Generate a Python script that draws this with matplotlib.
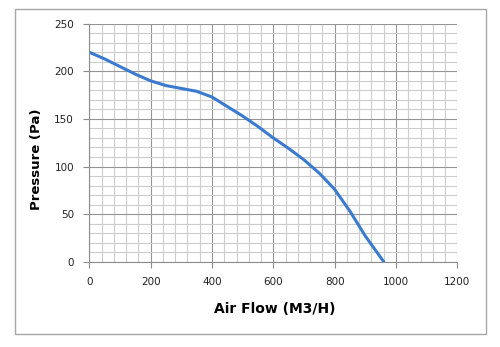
import matplotlib
matplotlib.use("Agg")
import matplotlib.pyplot as plt
from matplotlib.ticker import MultipleLocator
from matplotlib.patches import Rectangle

# Fan performance curve: static pressure vs. air flow
air_flow = [0, 50, 100, 150, 200, 250, 300, 350, 400, 450, 500, 550,
            600, 650, 700, 750, 800, 850, 900, 960]
pressure = [220, 213, 205, 197, 190, 185, 182, 179, 173, 163, 153, 142,
            130, 119, 107, 93, 76, 53, 27, 0]

x_ticks = [0, 200, 400, 600, 800, 1000, 1200]
y_ticks = [0, 50, 100, 150, 200, 250]

plt.rcParams['font.family'] = ['DejaVu Sans']

fig = plt.figure(figsize=(5.0, 3.47), dpi=100)
fig.patches.append(Rectangle((0.030, 0.037), 0.942, 0.937, transform=fig.transFigure,
                             fill=False, edgecolor='#a6a6a6', linewidth=1.0))

ax = fig.add_axes([0.1786, 0.2458, 0.736, 0.6859])
ax.set_xlim(0, 1200)
ax.set_ylim(0, 250)
ax.set_xticks(x_ticks)
ax.set_yticks(y_ticks)
ax.xaxis.set_minor_locator(MultipleLocator(40))
ax.yaxis.set_minor_locator(MultipleLocator(10))

ax.grid(which='minor', color='#cccccc', linewidth=0.8)
ax.grid(which='major', color='#959595', linewidth=0.8)
ax.set_axisbelow(True)

for side in ('top', 'right'):
    ax.spines[side].set_visible(False)
for side in ('left', 'bottom'):
    ax.spines[side].set_color('#8c8c8c')
    ax.spines[side].set_linewidth(0.8)

ax.tick_params(which='major', length=4, width=0.8, color='#8c8c8c',
               labelsize=7.5, labelcolor='#222222', pad=7)
ax.tick_params(which='minor', length=0)

ax.plot(air_flow, pressure, color='#3a7bd0', linewidth=2.2,
        solid_capstyle='round', solid_joinstyle='round')

ax.set_xlabel('Air Flow (M3/H)', fontsize=10, fontweight='bold')
ax.set_ylabel('Pressure (Pa)', fontsize=9.5, fontweight='bold')
ax.xaxis.set_label_coords(0.503, -0.168)
ax.yaxis.set_label_coords(-0.126, 0.429)

fig.savefig('out.png', dpi=100)
